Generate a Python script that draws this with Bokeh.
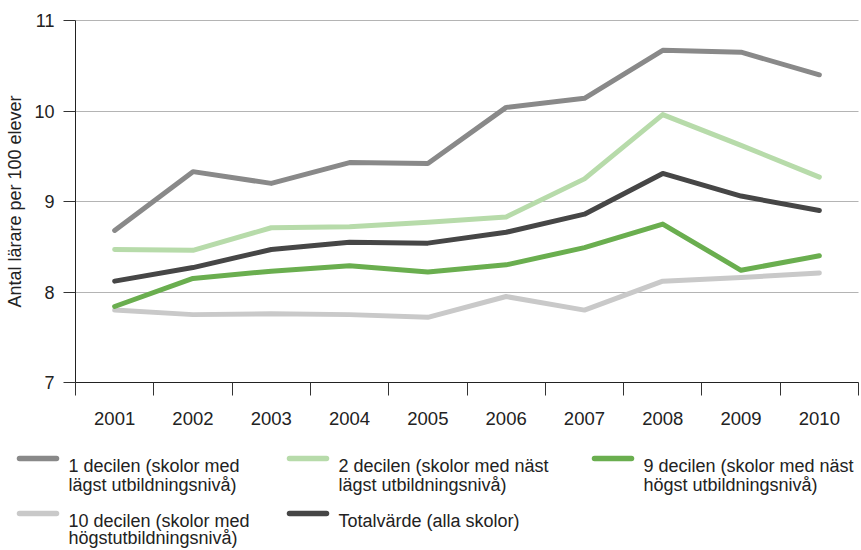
from bokeh.plotting import figure
from bokeh.models import Range1d, FixedTicker
from bokeh.core.properties import value
from bokeh.embed import file_html
from bokeh.resources import INLINE

years = [2001, 2002, 2003, 2004, 2005, 2006, 2007, 2008, 2009, 2010]
decil_1 = [8.68, 9.33, 9.20, 9.43, 9.42, 10.04, 10.14, 10.67, 10.65, 10.40]
decil_2 = [8.47, 8.46, 8.71, 8.72, 8.77, 8.83, 9.25, 9.96, 9.62, 9.27]
decil_9 = [7.84, 8.15, 8.23, 8.29, 8.22, 8.30, 8.49, 8.75, 8.24, 8.40]
decil_10 = [7.80, 7.75, 7.76, 7.75, 7.72, 7.95, 7.80, 8.12, 8.16, 8.21]
total = [8.12, 8.27, 8.47, 8.55, 8.54, 8.66, 8.86, 9.31, 9.06, 8.90]
y_ticks = [7, 8, 9, 10, 11]

labels = [
    "1 decilen (skolor med\nlägst utbildningsnivå)",
    "2 decilen (skolor med näst\nlägst utbildningsnivå)",
    "9 decilen (skolor med näst\nhögst utbildningsnivå)",
    "10 decilen (skolor med\nhögstutbildningsnivå)",
    "Totalvärde (alla skolor)",
]
colors = ["#898989", "#b7dbaa", "#6aae4f", "#c9c9c9", "#464646"]
series = [decil_1, decil_2, decil_9, decil_10, total]

FONT = "Liberation Sans"
TXT = "#222222"

W, H = 861, 550
# plot area (in page pixels) inside a full-canvas frame
PL, PR, PT, PB = 75, 858, 20, 382
X0, X1 = years[0] - 0.5, years[-1] + 0.5
Y0, Y1 = y_ticks[0], y_ticks[-1]
sx = (PR - PL) / (X1 - X0)
sy = (PB - PT) / (Y1 - Y0)

p = figure(width=W, height=H, output_backend="svg", toolbar_location=None,
           x_range=Range1d(X0 - PL / sx, X1 + (W - PR) / sx),
           y_range=Range1d(Y0 - (H - PB) / sy, Y1 + PT / sy),
           min_border=0, min_border_left=0, min_border_right=0,
           min_border_top=0, min_border_bottom=0)
p.outline_line_color = None
p.background_fill_color = "white"
p.border_fill_color = "white"

p.xgrid.grid_line_color = None
p.ygrid.grid_line_color = "#b4b4b4"
p.ygrid.grid_line_width = 1
p.ygrid.bounds = (Y0, Y1)
if "cross_bounds" in p.ygrid[0].properties():
    p.ygrid.cross_bounds = (X0, X1)
p.yaxis.ticker = FixedTicker(ticks=y_ticks)

p.xaxis.fixed_location = Y0
p.xaxis.bounds = (X0, X1)
p.xaxis.ticker = FixedTicker(ticks=years, minor_ticks=[y - 0.5 for y in years] + [years[-1] + 0.5])
p.xaxis.major_tick_out = 0
p.xaxis.major_tick_in = 0
p.xaxis.minor_tick_out = 13
p.xaxis.minor_tick_in = 0
p.xaxis.minor_tick_line_color = "#333333"
p.xaxis.axis_line_color = "#222222"
p.xaxis.major_label_standoff = 16
p.xaxis.major_label_text_font_size = "18.5px"
p.xaxis.major_label_text_font = FONT
p.xaxis.major_label_text_color = TXT

p.yaxis.fixed_location = X0
p.yaxis.bounds = (Y0, Y1)
p.yaxis.major_tick_out = 12
p.yaxis.major_tick_in = 0
p.yaxis.minor_tick_line_color = None
p.yaxis.major_tick_line_color = "#333333"
p.yaxis.axis_line_color = "#222222"
p.yaxis.major_label_standoff = 9
p.yaxis.major_label_text_font_size = "18px"
p.yaxis.major_label_text_font = FONT
p.yaxis.major_label_text_color = TXT
p.yaxis.axis_label = "Antal lärare per 100 elever"
p.yaxis.axis_label_text_font_size = "18px"
p.yaxis.axis_label_text_font_style = "normal"
p.yaxis.axis_label_text_font = FONT
p.yaxis.axis_label_text_color = TXT
p.yaxis.axis_label_standoff = 6

order = [3, 0, 1, 2, 4]
for i in order:
    p.line(years, series[i], line_color=colors[i], line_width=5,
           line_cap="round", line_join="round")

# Legend below the plot area: extra ranges in page pixels
p.extra_x_ranges = {"px": Range1d(0, W)}
p.extra_y_ranges = {"py": Range1d(H, 0)}

col_x = [17, 287, 592, 17, 287]
row_y = [458, 458, 458, 513, 513]
row_lh = [18.5, 18.5, 18.5, 17, 17]
sw_len = 41
for i in range(len(labels)):
    x0, y0 = col_x[i], row_y[i]
    p.segment(x0=[x0 + 2], y0=[y0], x1=[x0 + sw_len - 2], y1=[y0],
              line_color=colors[i], line_width=5.5, line_cap="round",
              x_range_name="px", y_range_name="py")
    for k, ln in enumerate(labels[i].split("\n")):
        p.text(x=[x0 + 51], y=[y0 + 7.5 + k * row_lh[i]], text=[ln],
               text_font=value(FONT), text_font_size="18px", text_color=TXT,
               text_baseline="alphabetic", text_align="left",
               x_range_name="px", y_range_name="py")

open("out.html", "w").write(file_html(p, INLINE))
